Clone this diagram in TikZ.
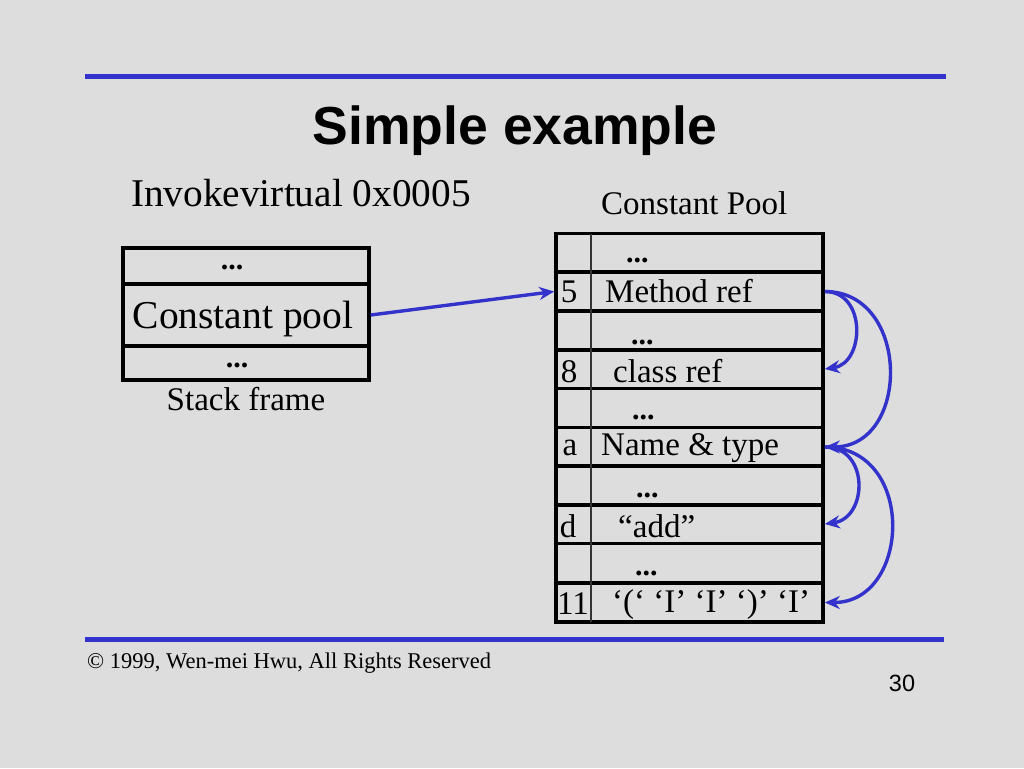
\documentclass[tikz,border=0pt]{standalone}
\usepackage{fontspec}
\setmainfont{Liberation Serif}
\newfontfamily\titlefont{Liberation Sans}
\usetikzlibrary{arrows.meta}
\definecolor{bg}{HTML}{DDDDDD}
\definecolor{slideblue}{HTML}{3333CC}
\tikzset{
  txt/.style={inner sep=0pt, anchor=base west},
  ctxt/.style={inner sep=0pt, anchor=base},
  mid/.style={font=\fontsize{33}{40}\selectfont},
  dots/.style={font=\fontsize{30}{36}\selectfont\bfseries, inner sep=0pt, anchor=base west},
  cdots/.style={font=\fontsize{30}{36}\selectfont\bfseries, inner sep=0pt, anchor=base},
  rowbox/.style={draw=black, line width=3.6pt, minimum width=267pt, minimum height=38.8pt, inner sep=0pt},
  sfbox/.style={draw=black, line width=3.6pt, minimum width=246pt, inner sep=0pt},
  bluearrow/.style={draw=slideblue, line width=3.4pt, -{Stealth[length=15pt,width=13pt]}},
  rule/.style={draw=slideblue, line width=5.5pt}
}
\begin{document}
\begin{tikzpicture}[x=1pt,y=-1pt]
\fill[bg] (0,0) rectangle (1024,768);
\useasboundingbox (0,0) rectangle (1024,768);
% rules
\coordinate (t1) at (85,76.5);
\coordinate (t2) at (946,76.5);
\coordinate (b1) at (85,639.5);
\coordinate (b2) at (944,639.5);
\draw[rule] (t1) -- (t2);
\draw[rule] (b1) -- (b2);
% title
\node[ctxt, font=\titlefont\bfseries\fontsize{53.5}{62}\selectfont] (title) at (515,144) {Simple example};
\node[txt, font=\fontsize{39.3}{46}\selectfont] (inv) at (131,206) {Invokevirtual 0x0005};
\node[txt, mid] (cplabel) at (601,214) {Constant Pool};
% stack frame
\node[sfbox, minimum height=36pt] (sf1) at (246,266) {};
\node[sfbox, minimum height=62pt] (cp) at (246,315) {};
\node[sfbox, minimum height=34pt] (sf3) at (246,363) {};
\node[cdots] (sfd1) at (232,269) {...};
\node[ctxt, font=\fontsize{39.5}{46}\selectfont] (cptxt) at (243,328) {Constant pool};
\node[cdots] (sfd3) at (237,367) {...};
\node[ctxt, mid] (sflabel) at (246,410) {Stack frame};
% constant pool rows
\foreach \i/\y in {1/253,2/291.5,3/330.5,4/369,5/408,6/447,7/485.5,8/524,9/563,10/602.5}{
  \node[rowbox] (r\i) at (689.5,\y) {};
}
\coordinate (sepT) at (591,234);
\coordinate (sepB) at (591,622);
\draw[line width=1.6pt, black!80] (sepT) -- (sepB);
% row contents
\node[dots] (d1) at (626,262) {...};
\node[ctxt, mid] (i5) at (569,302) {5};
\node[txt, mid] (c5) at (605,302) {Method ref};
\node[dots] (d3) at (631,344) {...};
\node[ctxt, mid] (i8) at (569,382) {8};
\node[txt, mid] (c8) at (613,382) {class ref};
\node[dots] (d5) at (632,419) {...};
\node[ctxt, mid] (ia) at (570,455) {a};
\node[txt, mid] (ca) at (601,455) {Name \& type};
\node[dots] (d7) at (636,497) {...};
\node[ctxt, mid] (id) at (568,537) {d};
\node[txt, mid] (cd) at (618,537) {“add”};
\node[dots] (d9) at (635,575) {...};
\node[ctxt, mid] (i11) at (573,614) {11};
\node[txt, mid] (c11) at (612,612) {‘(‘ ‘I’ ‘I’ ‘)’ ‘I’};
% arrows
\draw[bluearrow] (cp.east) -- (r2.west);
\draw[bluearrow] (r2.east) .. controls +(42,0) and +(40,-6) .. (r4.east);
\draw[bluearrow] (r2.east) .. controls +(86,0) and +(86,0) .. (r6.east);
\draw[bluearrow] (r6.east) .. controls +(45,0) and +(43,-6) .. (r8.east);
\draw[bluearrow] (r6.east) .. controls +(92,0) and +(86,0) .. (r10.east);
% footer
\node[txt, font=\fontsize{22.5}{27}\selectfont] (foot) at (87,668) {© 1999, Wen-mei Hwu, All Rights Reserved};
\node[ctxt, font=\titlefont\fontsize{23.5}{28}\selectfont] (pg) at (902,691) {30};
\end{tikzpicture}
\end{document}
